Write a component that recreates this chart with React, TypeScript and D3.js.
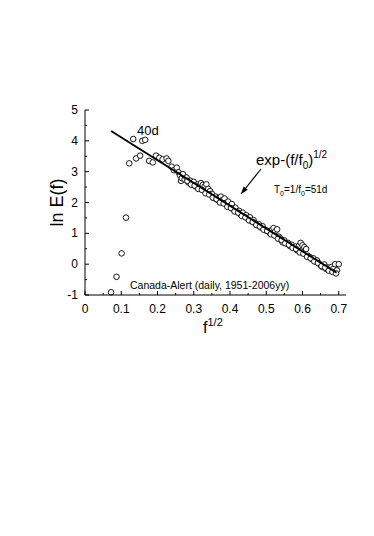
import * as d3 from 'd3'

const W = 374
const H = 536
const PLOT = { left: 85, right: 346, top: 110, bottom: 295 }

// low-frequency points (left of the fit)
const fHalfLow = [0.072, 0.087, 0.101, 0.113, 0.122, 0.133, 0.141, 0.152, 0.158, 0.166, 0.177, 0.187, 0.196, 0.205, 0.214, 0.225, 0.23, 0.239, 0.245, 0.253, 0.258, 0.262, 0.265, 0.267]
const lnELow = [-0.91, -0.41, 0.35, 1.51, 3.27, 4.06, 3.43, 3.52, 4.0, 4.03, 3.35, 3.3, 3.52, 3.45, 3.4, 3.43, 3.35, 3.16, 3.05, 3.13, 2.98, 2.88, 2.7, 2.79]

// main band, upper row
const fHalfA = [0.27, 0.275, 0.28, 0.285, 0.29, 0.295, 0.3, 0.305, 0.31, 0.315, 0.32, 0.325, 0.33, 0.335, 0.34, 0.345, 0.35, 0.355, 0.36, 0.365, 0.37, 0.375, 0.38, 0.385, 0.39, 0.395, 0.4, 0.405, 0.41, 0.415, 0.42, 0.425, 0.43, 0.435, 0.44, 0.445, 0.45, 0.455, 0.46, 0.465, 0.47, 0.475, 0.48, 0.485, 0.49, 0.495, 0.5, 0.505, 0.51, 0.515, 0.52, 0.525, 0.53, 0.535, 0.54, 0.545, 0.55, 0.555, 0.56, 0.565, 0.57, 0.575, 0.58, 0.585, 0.59, 0.595, 0.6, 0.605, 0.61, 0.615, 0.62, 0.625, 0.63, 0.635, 0.64, 0.645, 0.65, 0.655, 0.66, 0.665, 0.67, 0.675, 0.68, 0.685, 0.69, 0.695, 0.7]
const lnEA = [2.92, 2.75, 2.81, 2.65, 2.71, 2.59, 2.67, 2.52, 2.59, 2.53, 2.63, 2.57, 2.52, 2.59, 2.44, 2.37, 2.28, 2.15, 2.19, 2.09, 2.15, 2.19, 2.09, 2.13, 1.99, 2.03, 1.89, 1.95, 1.77, 1.83, 1.69, 1.73, 1.61, 1.67, 1.55, 1.59, 1.46, 1.52, 1.39, 1.43, 1.33, 1.27, 1.29, 1.19, 1.23, 1.13, 1.09, 1.07, 1.01, 1.11, 1.17, 1.07, 1.13, 0.89, 0.83, 0.71, 0.77, 0.67, 0.69, 0.59, 0.63, 0.53, 0.57, 0.45, 0.59, 0.69, 0.61, 0.55, 0.49, 0.27, 0.23, 0.17, 0.19, 0.09, 0.12, 0.03, -0.03, -0.09, -0.01, -0.15, -0.11, -0.17, -0.09, -0.15, 0.0, -0.2, 0.0]

// main band, lower row
const fHalfB = [0.2825, 0.2925, 0.3025, 0.3125, 0.3225, 0.3325, 0.3425, 0.3525, 0.3625, 0.3725, 0.3825, 0.3925, 0.4025, 0.4125, 0.4225, 0.4325, 0.4425, 0.4525, 0.4625, 0.4725, 0.4825, 0.4925, 0.5025, 0.5125, 0.5225, 0.5325, 0.5425, 0.5525, 0.5625, 0.5725, 0.5825, 0.5925, 0.6025, 0.6125, 0.6225, 0.6325, 0.6425, 0.6525, 0.6625, 0.6725, 0.6825, 0.6925]
const lnEB = [2.7, 2.58, 2.55, 2.44, 2.41, 2.3, 2.26, 2.16, 2.11, 2.0, 1.97, 1.86, 1.82, 1.71, 1.67, 1.56, 1.52, 1.42, 1.37, 1.27, 1.22, 1.12, 1.08, 0.97, 0.93, 0.83, 0.78, 0.68, 0.63, 0.53, 0.49, 0.38, 0.34, 0.24, 0.19, 0.09, 0.04, -0.06, -0.11, -0.21, -0.25, -0.3]

// fit line exp-(f/f0)^1/2 endpoints
const fitX = [0.072, 0.694]
const fitY = [4.32, -0.28]

const xTicks = [0, 0.1, 0.2, 0.3, 0.4, 0.5, 0.6, 0.7]
const yTicks = [-1, 0, 1, 2, 3, 4, 5]

const FONT = 'Liberation Sans, Arial, sans-serif'

export default function App() {
  const x = d3.scaleLinear().domain([0, 0.72]).range([PLOT.left, PLOT.right])
  const y = d3.scaleLinear().domain([-1, 5]).range([PLOT.bottom, PLOT.top])

  const points = [
    ...fHalfLow.map((f, i) => [f, lnELow[i]]),
    ...fHalfA.map((f, i) => [f, lnEA[i]]),
    ...fHalfB.map((f, i) => [f, lnEB[i]]),
  ]

  const xMinor = d3.range(0.05, 0.72, 0.1)
  const yMinor = d3.range(-0.5, 5, 1)

  const line = d3.line<number>().x((d) => x(fitX[d])).y((d) => y(fitY[d]))

  // arrow pointing at the fit line
  const ax0 = 261, ay0 = 169, ax1 = 241, ay1 = 194
  const ang = Math.atan2(ay1 - ay0, ax1 - ax0)
  const head = (a: number) => `${ax1 - 8 * Math.cos(ang + a)},${ay1 - 8 * Math.sin(ang + a)}`

  return (
    <svg width={W} height={H} style={{ position: 'absolute', left: 0, top: 0, background: '#fff' }}>
      <g fontFamily={FONT} fill="#000">
        {/* points */}
        {points.map((p, i) => (
          <circle key={i} cx={x(p[0])} cy={y(p[1])} r={2.8} fill="#fff" stroke="#000" strokeWidth={0.9} />
        ))}
        <path d={line([0, 1]) ?? ''} stroke="#000" strokeWidth={1.8} fill="none" />

        {/* axes */}
        <line x1={PLOT.left} x2={PLOT.left} y1={PLOT.top} y2={PLOT.bottom} stroke="#000" strokeWidth={1} />
        <line x1={PLOT.left} x2={PLOT.right} y1={PLOT.bottom} y2={PLOT.bottom} stroke="#000" strokeWidth={1} />
        {xTicks.map((t) => (
          <g key={t}>
            <line x1={x(t)} x2={x(t)} y1={PLOT.bottom} y2={PLOT.bottom - 4} stroke="#000" />
            <text x={x(t)} y={PLOT.bottom + 18} textAnchor="middle" fontSize={12}>{t}</text>
          </g>
        ))}
        {xMinor.map((t) => (
          <line key={t} x1={x(t)} x2={x(t)} y1={PLOT.bottom} y2={PLOT.bottom - 2} stroke="#000" />
        ))}
        {yTicks.map((t) => (
          <g key={t}>
            <line x1={PLOT.left} x2={PLOT.left + 4} y1={y(t)} y2={y(t)} stroke="#000" />
            <text x={PLOT.left - 7} y={y(t) + 4} textAnchor="end" fontSize={12}>{t}</text>
          </g>
        ))}
        {yMinor.map((t) => (
          <line key={t} x1={PLOT.left} x2={PLOT.left + 2} y1={y(t)} y2={y(t)} stroke="#000" />
        ))}

        {/* axis titles */}
        <text transform={`translate(63,${(PLOT.top + PLOT.bottom) / 2}) rotate(-90)`} textAnchor="middle" fontSize={18}>ln E(f)</text>
        <text x={203} y={333} fontSize={16}>
          f<tspan fontSize={11} dy={-7}>1/2</tspan>
        </text>

        {/* annotations */}
        <text x={137} y={135} fontSize={13}>40d</text>
        <text x={256} y={165} fontSize={15}>
          exp-(f/f<tspan fontSize={10} dy={4}>0</tspan><tspan dy={-4}>)</tspan><tspan fontSize={10} dy={-7}>1/2</tspan>
        </text>
        <line x1={ax0} y1={ay0} x2={ax1} y2={ay1} stroke="#000" strokeWidth={1.1} />
        <polygon points={`${ax1},${ay1} ${head(0.35)} ${head(-0.35)}`} fill="#000" />
        <text x={274} y={193} fontSize={10}>
          T<tspan fontSize={7} dy={3}>0</tspan><tspan dy={-3}>=1/f</tspan><tspan fontSize={7} dy={3}>0</tspan><tspan dy={-3}>=51d</tspan>
        </text>
        <text x={130} y={289} fontSize={10.5}>Canada-Alert (daily, 1951-2006yy)</text>
      </g>
    </svg>
  )
}
